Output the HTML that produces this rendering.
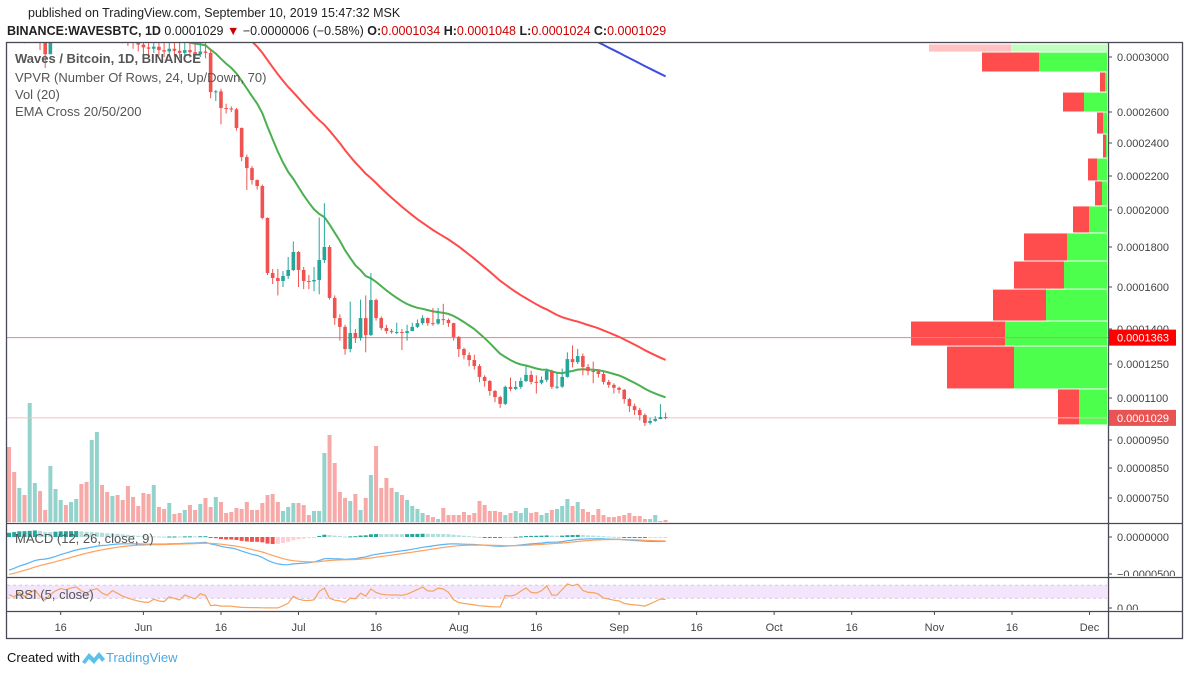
<!DOCTYPE html>
<html><head><meta charset="utf-8"><style>
html,body{margin:0;padding:0;background:#fff;width:1188px;height:675px;overflow:hidden}
svg{display:block;font-family:"Liberation Sans",sans-serif}
</style></head><body>
<svg id="chart" width="1188" height="675" viewBox="0 0 1188 675">
<defs>
<clipPath id="mainClip"><rect x="7" y="43" width="1101" height="479"/></clipPath>
<clipPath id="macdClip"><rect x="7" y="524" width="1101" height="52"/></clipPath>
<clipPath id="rsiClip"><rect x="7" y="578" width="1101" height="32"/></clipPath>
<clipPath id="axMacdClip"><rect x="1109" y="524" width="73" height="52"/></clipPath>
<clipPath id="axRsiClip"><rect x="1109" y="578" width="73" height="32"/></clipPath>
</defs>
<text x="28" y="17" font-size="12.5" fill="#222">published on TradingView.com, September 10, 2019 15:47:32 MSK</text>
<text x="7" y="35" font-size="12.5" fill="#222"><tspan font-weight="bold">BINANCE:WAVESBTC, 1D</tspan> 0.0001029 <tspan fill="#c00">▼</tspan> −0.0000006 (−0.58%) <tspan font-weight="bold">O:</tspan><tspan fill="#c00">0.0001034</tspan> <tspan font-weight="bold">H:</tspan><tspan fill="#c00">0.0001048</tspan> <tspan font-weight="bold">L:</tspan><tspan fill="#c00">0.0001024</tspan> <tspan font-weight="bold">C:</tspan><tspan fill="#c00">0.0001029</tspan></text>
<g id="panes"></g>
<g id="frame" fill="none" stroke="#4a4a55" stroke-width="1.3">
<rect x="6.5" y="42.5" width="1176" height="596"/>
<line x1="1108.5" y1="42" x2="1108.5" y2="638"/>
<line x1="6" y1="523.5" x2="1183" y2="523.5"/>
<line x1="6" y1="577.5" x2="1183" y2="577.5"/>
<line x1="6" y1="611.5" x2="1183" y2="611.5"/>
</g>
<text x="7" y="662" font-size="13" fill="#111">Created with</text>
<g transform="translate(82,650)">
<path d="M0 12 L7 3 L12 8 L17 2 L23 9 L20 12 L17 8 L12 14 L7 9 L3 14 Z" fill="#5bc0eb"/>
</g>
<text x="106" y="662" font-size="13" fill="#4aa8e0">TradingView</text>
</svg>
<script>
// ---- data ----
const closes = [3250,3200,3260,3180,3230,3280,3150,3020,3120,3200,3260,3240,3280,3300,3250,3220,3260,3280,3230,3200,3250,3220,3180,3150,3120,3090,3070,3060,3075,3050,3040,3060,3045,3030,3050,3035,3020,3040,3030,
2745,2750,2629,2625,2620,2497,2315,2248,2176,2141,
1957,1670,1645,1630,1655,1685,1775,1685,1630,1628,
1635,1735,1800,1548,1452,1410,1314,1383,1361,1452,
1374,1538,1452,1405,1391,1387,1387,1383,1391,1410,
1428,1452,1428,1426,1447,1443,1428,1366,1314,1288,
1267,1241,1193,1175,1131,1104,1079,1149,1140,1149,
1175,1202,1171,1167,1180,1219,1149,1150,1193,1271,
1258,1284,1237,1219,1218,1206,1171,1158,1145,1136,
1096,1071,1057,1039,1011,1018,1025,1032,1029];
const firstOpen = 3300;
const highs = [3350,3350,3350,3350,3350,3350,3350,3350,3350,3350,3350,3350,3350,3350,3350,3350,3350,3350,3350,3350,3350,3350,3350,3350,3350,3350,3350,3350,3350,3350,3350,3350,3350,3350,3350,3350,3350,3350,3350,
3060,2760,2770,2660,2640,2630,2500,2330,2260,2180,
2150,1960,1690,1690,1680,1750,1830,1780,1700,1660,
1700,1960,2040,1810,1560,1470,1420,1530,1400,1540,
1560,1670,1545,1460,1420,1400,1430,1400,1420,1430,
1445,1465,1455,1500,1500,1520,1450,1430,1370,1320,
1300,1290,1250,1200,1180,1135,1110,1155,1190,1175,
1190,1240,1220,1200,1195,1230,1225,1215,1230,1300,
1330,1315,1295,1250,1260,1225,1215,1180,1165,1150,
1140,1100,1080,1065,1045,1030,1035,1078,1048];
const lows = [3150,3120,3150,3100,3150,3180,3050,2920,3060,3120,3180,3170,3200,3230,3170,3150,3190,3200,3150,3140,3160,3140,3100,3080,3060,3040,3020,3010,3030,3010,3000,3015,3005,2990,3010,2995,2985,3000,2990,
2700,2680,2520,2590,2600,2480,2290,2118,2150,2120,
1950,1660,1615,1560,1600,1640,1680,1600,1590,1590,
1580,1565,1720,1540,1420,1350,1290,1300,1340,1350,
1300,1370,1440,1395,1380,1380,1378,1310,1350,1395,
1405,1420,1415,1415,1420,1420,1410,1350,1280,1270,
1240,1225,1170,1150,1110,1085,1065,1075,1130,1135,
1140,1170,1160,1120,1160,1170,1140,1140,1145,1190,
1235,1250,1200,1200,1165,1190,1160,1145,1120,1120,
1080,1050,1040,1020,1000,1005,1015,1024,1024];
const volumes = [76,51,35,28,120,40,32,13,57,34,23,18,21,24,39,41,83,91,38,31,27,28,23,37,26,17,30,29,38,16,14,20,9,10,13,18,13,19,25,16,26,21,10,11,15,14,21,13,13,20,28,29,21,12,16,20,20,18,8,12,12,70,88,60,31,25,22,29,13,25,48,77,35,45,35,31,28,23,17,14,10,8,6,4,15,8,8,8,11,8,10,22,18,12,12,11,8,10,12,10,15,10,11,8,10,13,14,17,24,17,21,14,11,8,14,8,6,6,7,8,10,7,7,4,4,8,2,3];
const ema20Seed = 3300, ema50Seed = 4360, ema200Seed = 5870;
const ema12Seed = 3300, ema26Seed = 3780, signalSeed = -520;
const rsiGainSeed = 30, rsiLossSeed = 30;
const vpRowPrices = [3095,3036,2891,2745,2600,2458,2309,2171,2024,1876,1730,1590,1438,1327,1140,1004];
const vpUp =   [96,68,2,23,4,1,10,5,18,40,43,61,102,93,28];
const vpDown = [82,57,5,21,6,3,9,7,16,43,50,53,94,67,21];
const tickPrices = [3000,2600,2400,2200,2000,1800,1600,1400,1250,1100,950,850,750];
const tickLabels = ["0.0003000","0.0002600","0.0002400","0.0002200","0.0002000","0.0001800","0.0001600","0.0001400","0.0001250","0.0001100","0.0000950","0.0000850","0.0000750"];
const timeLabels = ["16","Jun","16","Jul","16","Aug","16","Sep","16","Oct","16","Nov","16","Dec"];
const timeLabelDays = [10,26,41,56,71,87,102,118,133,148,163,179,194,209];
const lastPrice = 1029, markPrice = 1363;

// ---- scales ----
const scaleY = [57,112,143,176,210,247,287,329,364,398,440,468,498]; // axis anchor pixels
function yP(p){
  if(p>=tickPrices[0]) return scaleY[0]-(p-tickPrices[0])*(55/400);
  for(let k=0;k<tickPrices.length-1;k++){
    const a=tickPrices[k],b=tickPrices[k+1];
    if(p<=a&&p>=b) return scaleY[k]+(a-p)/(a-b)*(scaleY[k+1]-scaleY[k]);
  }
  return scaleY[scaleY.length-1]+(tickPrices[tickPrices.length-1]-p)*0.3;
}
const x0=9, step=5.17;
function xI(i){return x0+i*step;}
function yVol(v){return 523-v;}
function yMacd(v){return 537-v*(37/500);}
function yRsi(r){return 608-r*0.325;}

const NS="http://www.w3.org/2000/svg";
const panes=document.getElementById('panes');
function mk(tag,attrs,parent){const e=document.createElementNS(NS,tag);for(const k in attrs)e.setAttribute(k,attrs[k]);(parent||panes).appendChild(e);return e;}

const opens = closes.map((c,i)=> i===0?firstOpen:closes[i-1]);

// main pane group
const gMain=mk('g',{'clip-path':'url(#mainClip)'});



// volume
const gVol=mk('g',{},gMain);


volumes.forEach((v,i)=>{
  const up=closes[i]>=opens[i];
  const r=mk('rect',{x:xI(i)-2,y:yVol(v),width:4,height:v,fill:up?'#94d2cc':'#f7a9a7'},gVol);
  
  
});

// VPVR
const gVp=mk('g',{},gMain);


for(let k=0;k<vpUp.length;k++){
  const yt=yP(vpRowPrices[k])+0.5, yb=yP(vpRowPrices[k+1])-0.5;
  const op=k===0?0.35:1;
  const right=1107;
  const g=mk('rect',{x:right-vpUp[k],y:yt,width:vpUp[k],height:yb-yt,fill:'#4cff4c','fill-opacity':op},gVp);
  
  
  const d=mk('rect',{x:right-vpUp[k]-vpDown[k],y:yt,width:vpDown[k],height:yb-yt,fill:'#ff4c4c','fill-opacity':op},gVp);
  
  
}

// horizontal price lines
const hl1=mk('line',{x1:7,x2:1108,y1:yP(markPrice),y2:yP(markPrice),stroke:'#f08080','stroke-width':1},gMain);


const hl2=mk('line',{x1:7,x2:1108,y1:yP(lastPrice),y2:yP(lastPrice),stroke:'#f8c0c0','stroke-width':1},gMain);



// EMAs
function ema(arr,n,seed){const a=2/(n+1);let e=seed;return arr.map(c=>(e=e+a*(c-e)));}
const e20=ema(closes,20,ema20Seed), e50=ema(closes,50,ema50Seed), e200=ema(closes,200,ema200Seed);
[[e200,'#3c4ee0','ema-200-line'],[e50,'#ff4a4a','ema-50-line'],[e20,'#4caf50','ema-20-line']].forEach(([arr,col,nm])=>{
  const p=mk('polyline',{points:arr.map((v,i)=>xI(i).toFixed(1)+','+yP(v).toFixed(1)).join(' '),fill:'none',stroke:col,'stroke-width':2},gMain);
  
  
});

// candles
const gC=mk('g',{},gMain);


closes.forEach((c,i)=>{
  const o=opens[i], up=c>=o, col=up?'#26a69a':'#ef5350', x=xI(i);
  const w=mk('line',{x1:x,x2:x,y1:yP(highs[i]),y2:yP(lows[i]),stroke:col,'stroke-width':1},gC);
  
  
  const yt=Math.min(yP(o),yP(c)), h=Math.max(1,Math.abs(yP(o)-yP(c)));
  const b=mk('rect',{x:x-1.8,y:yt,width:3.6,height:h,fill:col},gC);
  
  
});

// legend
const legend=[['Waves / Bitcoin, 1D, BINANCE',63,true],['VPVR (Number Of Rows, 24, Up/Down, 70)',82,false],['Vol (20)',99,false],['EMA Cross 20/50/200',116,false]];
legend.forEach(([t,y,b])=>{
  const e=mk('text',{x:15,y:y,'font-size':13,fill:'#555','font-weight':b?'bold':'normal'});
  e.textContent=t;
  
  
});

// price axis
tickPrices.forEach((p,k)=>{
  const y=yP(p);
  mk('line',{x1:1108,x2:1112,y1:y,y2:y,stroke:'#4a4a55'});
  const t=mk('text',{x:1117,y:y+4,'font-size':11,fill:'#444'});
  t.textContent=tickLabels[k];
  
  
});
function priceTag(p,bg,nm){
  const y=yP(p);
  const r=mk('rect',{x:1109,y:y-8,width:67,height:16,fill:bg});
  
  
  const t=mk('text',{x:1117,y:y+4,'font-size':11,fill:'#fff'});
  t.textContent='0.000'+String(p).padStart(4,'0');
  
  
}
priceTag(markPrice,'#ff0000','poc-price-tag');
priceTag(lastPrice,'#e85454','last-price-tag');

// MACD
const e12=ema(closes,12,ema12Seed), e26=ema(closes,26,ema26Seed);
const macd=e12.map((v,i)=>v-e26[i]);
const sig=ema(macd,9,signalSeed);
const gM=mk('g',{'clip-path':'url(#macdClip)'});


macd.forEach((m,i)=>{
  const h=m-sig[i], prev=i>0?macd[i-1]-sig[i-1]:h;
  const col=h>=0?(h>=prev?'#26a69a':'#b2dfdb'):(h<=prev?'#ef5350':'#ffcdd2');
  const y0=yMacd(0), y1=yMacd(h);
  const r=mk('rect',{x:xI(i)-2,y:Math.min(y0,y1),width:4,height:Math.max(1,Math.abs(y1-y0)),fill:col},gM);
  
  
});
[[macd,'#5ab4f5','macd-line'],[sig,'#ffa15c','macd-signal-line']].forEach(([arr,col,nm])=>{
  const p=mk('polyline',{points:arr.map((v,i)=>xI(i).toFixed(1)+','+yMacd(v).toFixed(1)).join(' '),fill:'none',stroke:col,'stroke-width':1.2},gM);
  
  
});
const ml=mk('text',{x:15,y:543,'font-size':13,fill:'#555'},gM);
ml.textContent='MACD (12, 26, close, 9)';


const gMa=mk('g',{'clip-path':'url(#axMacdClip)'});
[[0,'0.0000000'],[-500,'−0.0000500']].forEach(([v,l])=>{
  const y=yMacd(v);
  mk('line',{x1:1108,x2:1112,y1:y,y2:y,stroke:'#4a4a55'},gMa);
  const t=mk('text',{x:1117,y:y+4,'font-size':11,fill:'#444'},gMa);
  t.textContent=l;
  
  
});

// RSI
let ag=rsiGainSeed, al=rsiLossSeed;
const rsi=closes.map((c,i)=>{const d=c-opens[i];ag=(ag*4+Math.max(d,0))/5;al=(al*4+Math.max(-d,0))/5;return 100-100/(1+ag/(al||1e-9));});
const gR=mk('g',{'clip-path':'url(#rsiClip)'});


const band=mk('rect',{x:7,y:yRsi(70),width:1100,height:yRsi(30)-yRsi(70),fill:'#f3e6fc'},gR);


[70,30].forEach(v=>{mk('line',{x1:7,x2:1107,y1:yRsi(v),y2:yRsi(v),stroke:'#d9c3e8','stroke-dasharray':'3 3'},gR);});
const rl=mk('polyline',{points:rsi.map((v,i)=>xI(i).toFixed(1)+','+yRsi(v).toFixed(1)).join(' '),fill:'none',stroke:'#f7a35c','stroke-width':1.2},gR);


const rt=mk('text',{x:15,y:599,'font-size':13,fill:'#555'},gR);
rt.textContent='RSI (5, close)';


const gRa=mk('g',{'clip-path':'url(#axRsiClip)'});
mk('line',{x1:1108,x2:1112,y1:yRsi(0),y2:yRsi(0),stroke:'#4a4a55'},gRa);
const r0=mk('text',{x:1117,y:yRsi(0)+4,'font-size':11,fill:'#444'},gRa);
r0.textContent='0.00';



// time axis
timeLabels.forEach((l,k)=>{
  const x=xI(timeLabelDays[k]);
  mk('line',{x1:x,x2:x,y1:611,y2:615,stroke:'#4a4a55'});
  const t=mk('text',{x:x,y:631,'font-size':11,fill:'#444','text-anchor':'middle'});
  t.textContent=l;
  
  
});
</script>
</body></html>
